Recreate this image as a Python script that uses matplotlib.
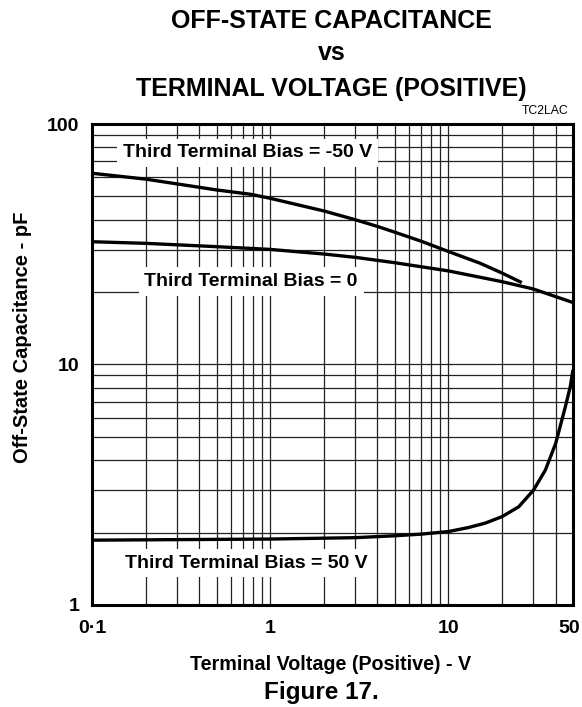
import numpy as np
import matplotlib
matplotlib.use('Agg')
import matplotlib.pyplot as plt
import matplotlib.transforms as mtransforms
from matplotlib.ticker import LogLocator, NullFormatter

plt.rcParams['font.family'] = ['Liberation Sans', 'DejaVu Sans']

# Curves (terminal voltage in V, capacitance in pF)
v_neg50 = [0.1, 0.2, 0.5, 0.78, 1, 2, 3, 4, 5, 7, 10, 15, 20, 25.8]
c_neg50 = [62.4, 59.0, 53.2, 51.0, 49.1, 43.5, 40.0, 37.5, 35.5, 32.6, 29.5, 26.4, 24.0, 21.9]

v_zero = [0.1, 0.2, 0.5, 1, 2, 3, 5, 10, 20, 30, 50]
c_zero = [32.4, 31.9, 30.9, 30.1, 28.8, 27.9, 26.5, 24.5, 22.1, 20.6, 18.1]

v_pos50 = [0.1, 1, 3, 5, 7, 10, 13, 16.1, 20, 24.8, 30, 35, 40, 45.3, 48.3, 50]
c_pos50 = [1.86, 1.88, 1.905, 1.94, 1.97, 2.02, 2.1, 2.19, 2.33, 2.56, 3.0, 3.64,
           4.7, 6.67, 8.1, 9.5]

x_ticks = [0.1, 1, 10, 50]
x_labels = ['0\u00b71', '1', '10', '50']
y_ticks = [1, 10, 100]
y_labels = ['1', '10', '100']

fig = plt.figure(figsize=(5.82, 7.07), dpi=100)
ax = fig.add_axes([0.158, 0.1443, 0.8265, 0.6803])

for v, c in [(v_neg50, c_neg50), (v_zero, c_zero), (v_pos50, c_pos50)]:
    ax.plot(v, c, color='black', lw=2.4, zorder=5, solid_capstyle='butt',
            solid_joinstyle='round')

ax.set_xscale('log')
ax.set_yscale('log')
ax.set_xlim(0.1, 50)
ax.set_ylim(1, 100)

ax.set_xticks(x_ticks)
ax.set_xticklabels(x_labels)
ax.set_yticks(y_ticks)
ax.set_yticklabels(y_labels)
ax.xaxis.set_minor_locator(LogLocator(base=10, subs=np.arange(2, 10)))
ax.yaxis.set_minor_locator(LogLocator(base=10, subs=np.arange(2, 10)))
ax.xaxis.set_minor_formatter(NullFormatter())
ax.yaxis.set_minor_formatter(NullFormatter())
ax.tick_params(which='both', length=0)
ax.tick_params(axis='x', pad=11)
ax.tick_params(axis='y', pad=9)
for lab in ax.get_xticklabels() + ax.get_yticklabels():
    lab.set_fontsize(14)
    lab.set_fontweight('bold')
# keep the "50" inside the picture
last = ax.get_xticklabels()[-1]
last.set_transform(last.get_transform() +
                   mtransforms.ScaledTranslation(-4 / 100, 0, fig.dpi_scale_trans))

ax.grid(True, which='both', color='#222222', lw=0.9, zorder=1)
ax.set_axisbelow(True)
for s in ax.spines.values():
    s.set_linewidth(2.2)
    s.set_zorder(6)

box = dict(boxstyle='square,pad=0.3', fc='white', ec='none')
ax.text(0.323, 0.940, 'Third Terminal Bias = -50 V', transform=ax.transAxes,
        ha='center', va='center', fontsize=14, fontweight='bold', bbox=box, zorder=4)
ax.text(0.331, 0.672, 'Third Terminal Bias = 0', transform=ax.transAxes,
        ha='center', va='center', fontsize=14, fontweight='bold', bbox=box, zorder=4)
ax.text(0.321, 0.087, 'Third Terminal Bias = 50 V', transform=ax.transAxes,
        ha='center', va='center', fontsize=14, fontweight='bold', bbox=box, zorder=4)

# Titles and labels
fig.text(0.570, 0.971, 'OFF-STATE CAPACITANCE', ha='center', va='center',
         fontsize=18, fontweight='bold')
fig.text(0.570, 0.925, 'vs', ha='center', va='center', fontsize=18, fontweight='bold')
fig.text(0.570, 0.874, 'TERMINAL VOLTAGE (POSITIVE)', ha='center', va='center',
         fontsize=18, fontweight='bold')
fig.text(0.976, 0.843, 'TC2LAC', ha='right', va='center', fontsize=8.8)
fig.text(0.0395, 0.523, 'Off-State Capacitance - pF', rotation=90, ha='center',
         va='center', fontsize=14.5, fontweight='bold')
fig.text(0.568, 1 - 664 / 707, 'Terminal Voltage (Positive) - V', ha='center',
         va='center', fontsize=14.2, fontweight='bold')
fig.text(0.553, 1 - 692 / 707, 'Figure 17.', ha='center', va='center',
         fontsize=17.5, fontweight='bold')

fig.savefig('out.png', dpi=100)
